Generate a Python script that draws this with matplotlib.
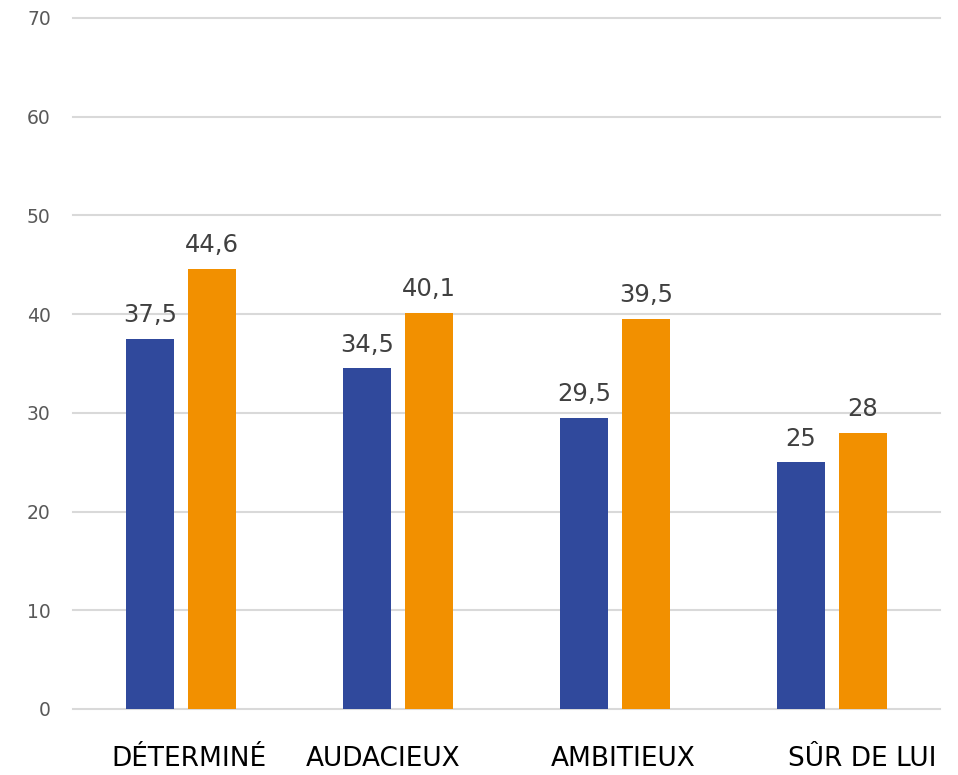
import matplotlib.pyplot as plt
import matplotlib.transforms as mtransforms
import numpy as np

categories = ["DÉTERMINÉ", "AUDACIEUX", "AMBITIEUX", "SÛR DE LUI"]
serie_bleue = [37.5, 34.5, 29.5, 25]
serie_orange = [44.6, 40.1, 39.5, 28]
labels_bleue = ["37,5", "34,5", "29,5", "25"]
labels_orange = ["44,6", "40,1", "39,5", "28"]

BLUE = "#30499C"
ORANGE = "#F29000"
GRID = "#D9D9D9"

plt.rcParams["font.family"] = "DejaVu Sans"

fig = plt.figure(figsize=(9.58, 7.75), dpi=100)
ax = fig.add_axes([0.0762, 0.0852, 0.905, 0.8916])

x = np.arange(len(categories))
w = 0.2215
off = 0.143
ax.bar(x - off, serie_bleue, w, color=BLUE, zorder=2)
ax.bar(x + off, serie_orange, w, color=ORANGE, zorder=2)

for xi, v, s in zip(x - off, serie_bleue, labels_bleue):
    ax.annotate(s, (xi, v), xytext=(0, 12), textcoords="offset points",
                ha="center", va="baseline", fontsize=17.5, color="#404040")
for xi, v, s in zip(x + off, serie_orange, labels_orange):
    ax.annotate(s, (xi, v), xytext=(0, 12), textcoords="offset points",
                ha="center", va="baseline", fontsize=17.5, color="#404040")

ax.set_xlim(-0.5, len(categories) - 0.5)
ax.set_ylim(0, 70)
ax.set_yticks(range(0, 71, 10))
ax.yaxis.grid(True, color=GRID, lw=1.5, zorder=0)
ax.set_axisbelow(True)
for gl in ax.get_ygridlines():
    gl.set_clip_on(False)
for sp in ax.spines.values():
    sp.set_visible(False)
ax.tick_params(axis="y", length=0, pad=16, labelsize=13.5, labelcolor="#595959")
ax.tick_params(axis="x", length=0, pad=27, labelsize=19, labelcolor="black")
ax.set_xticks(x)
ax.set_xticklabels(categories)

# label nudges (pixels) to mimic the original layout
shifts = [8, -15, 8, 31]
for lab, dx in zip(ax.get_xticklabels(), shifts):
    lab.set_transform(lab.get_transform() + mtransforms.ScaledTranslation(dx / 100, 0, fig.dpi_scale_trans))

fig.savefig("out.png", dpi=100)
